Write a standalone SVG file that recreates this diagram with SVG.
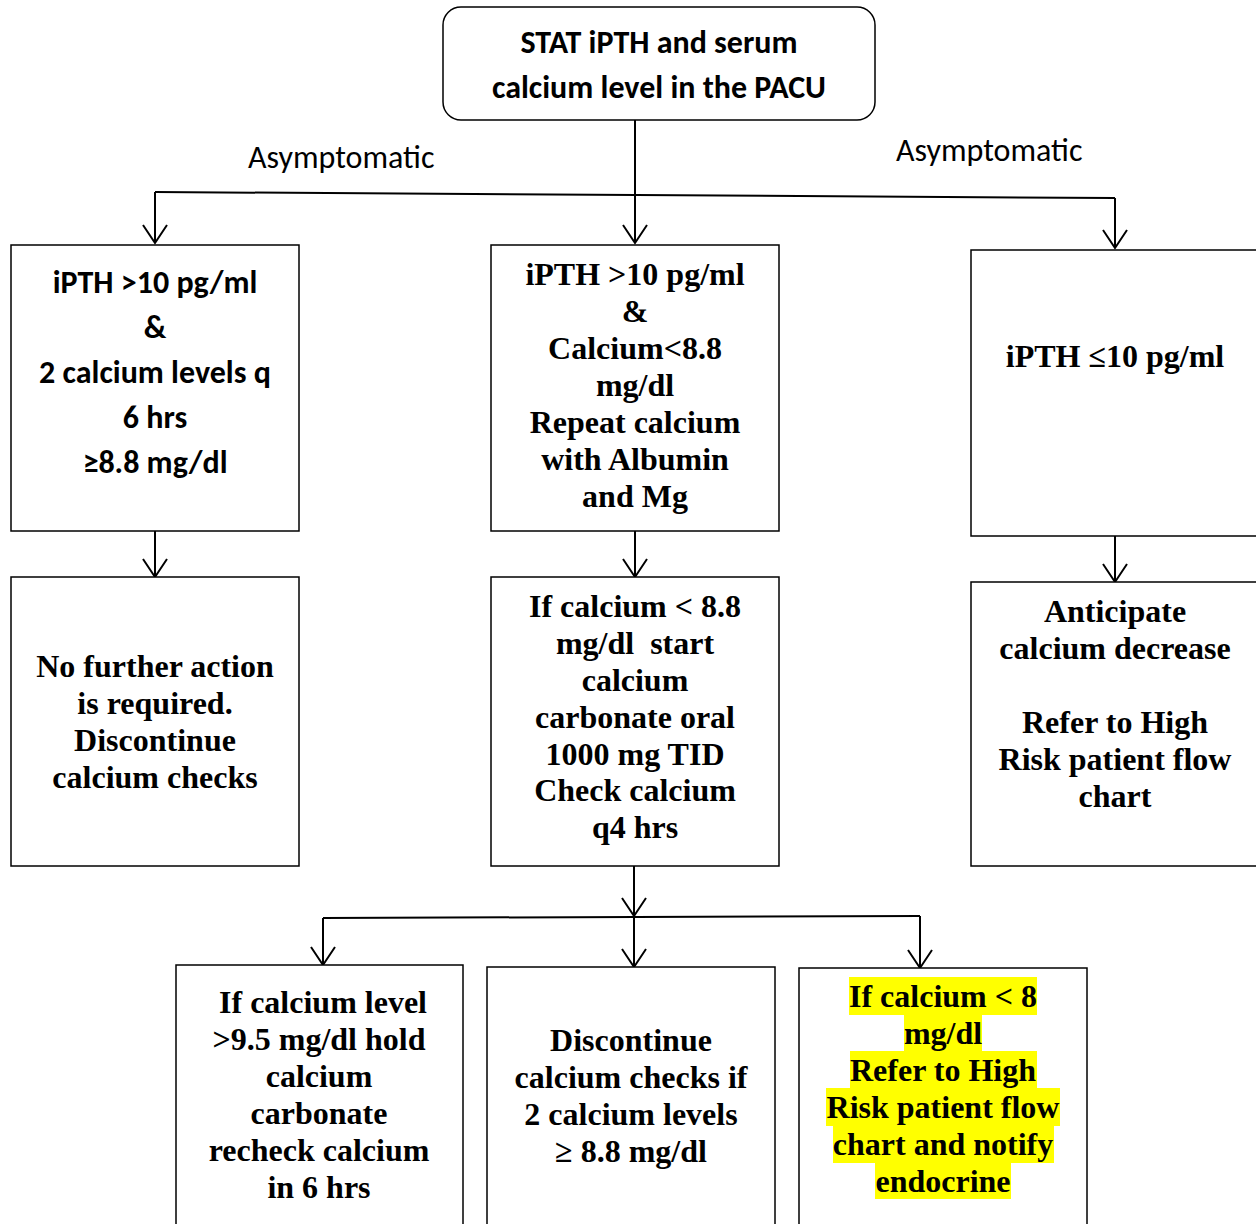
<svg xmlns="http://www.w3.org/2000/svg" width="1256" height="1224" viewBox="0 0 1256 1224">
<style>
.box{fill:#fff;stroke:#000;stroke-width:1.5}
.cal{font-family:Carlito,Lato,"Liberation Sans",sans-serif;font-weight:bold;font-size:32px;text-anchor:middle;fill:#000}
.lab{font-family:Carlito,Lato,"Liberation Sans",sans-serif;font-size:32px;fill:#000}
.tnr{font-family:"Liberation Serif","Times New Roman",serif;font-weight:bold;font-size:32px;text-anchor:middle;fill:#000}
.ln{fill:none;stroke:#000;stroke-width:2}
.hl{fill:#ffff00}
</style>
<rect width="1256" height="1224" fill="#fff"/>
<g id="connectors">
<line class="ln" x1="635" y1="120" x2="635" y2="243"/>
<line class="ln" x1="155" y1="192" x2="1115" y2="198"/>
<line class="ln" x1="155" y1="192" x2="155" y2="243"/>
<line class="ln" x1="1115" y1="198" x2="1115" y2="248"/>
<polyline class="ln" points="623,225 635,243 647,225"/>
<polyline class="ln" points="143,225 155,243 167,225"/>
<polyline class="ln" points="1103,230 1115,248 1127,230"/>
<line class="ln" x1="155" y1="531" x2="155" y2="577"/>
<polyline class="ln" points="143,559 155,577 167,559"/>
<line class="ln" x1="635" y1="531" x2="635" y2="577"/>
<polyline class="ln" points="623,559 635,577 647,559"/>
<line class="ln" x1="1115" y1="536" x2="1115" y2="582"/>
<polyline class="ln" points="1103,564 1115,582 1127,564"/>
<line class="ln" x1="634" y1="866" x2="634" y2="916"/>
<polyline class="ln" points="622,898 634,916 646,898"/>
<line class="ln" x1="323" y1="918" x2="920" y2="916"/>
<line class="ln" x1="323" y1="918" x2="323" y2="965"/>
<polyline class="ln" points="311,947 323,965 335,947"/>
<line class="ln" x1="634" y1="916" x2="634" y2="967"/>
<polyline class="ln" points="622,949 634,967 646,949"/>
<line class="ln" x1="920" y1="916" x2="920" y2="968"/>
<polyline class="ln" points="908,950 920,968 932,950"/>
</g>
<g id="labels">
<text class="lab" x="248" y="168">Asymptomatic</text>
<text class="lab" x="896" y="161">Asymptomatic</text>
</g>
<g id="start">
<rect class="box" x="443" y="7" width="432" height="113" rx="18"/>
<text class="cal" x="659" y="53">STAT iPTH and serum</text>
<text class="cal" x="659" y="98">calcium level in the PACU</text>
</g>
<g id="left1">
<rect class="box" x="11" y="245" width="288" height="286"/>
<text class="cal" x="155" y="293">iPTH &gt;10 pg/ml</text>
<text class="cal" x="155" y="338">&amp;</text>
<text class="cal" x="155" y="383">2 calcium levels q</text>
<text class="cal" x="155" y="428">6 hrs</text>
<text class="cal" x="155" y="473">≥8.8 mg/dl</text>
</g>
<g id="mid1">
<rect class="box" x="491" y="245" width="288" height="286"/>
<text class="tnr" x="635" y="285">iPTH &gt;10 pg/ml</text>
<text class="tnr" x="635" y="322">&amp;</text>
<text class="tnr" x="635" y="359">Calcium&lt;8.8</text>
<text class="tnr" x="635" y="396">mg/dl</text>
<text class="tnr" x="635" y="433">Repeat calcium</text>
<text class="tnr" x="635" y="470">with Albumin</text>
<text class="tnr" x="635" y="507">and Mg</text>
</g>
<g id="right1">
<rect class="box" x="971" y="250" width="300" height="286"/>
<text class="tnr" x="1115" y="367">iPTH ≤10 pg/ml</text>
</g>
<g id="left2">
<rect class="box" x="11" y="577" width="288" height="289"/>
<text class="tnr" x="155" y="677">No further action</text>
<text class="tnr" x="155" y="714">is required.</text>
<text class="tnr" x="155" y="751">Discontinue</text>
<text class="tnr" x="155" y="788">calcium checks</text>
</g>
<g id="mid2">
<rect class="box" x="491" y="577" width="288" height="289"/>
<text class="tnr" x="635" y="617">If calcium &lt; 8.8</text>
<text class="tnr" x="635" y="654" xml:space="preserve">mg/dl  start</text>
<text class="tnr" x="635" y="691">calcium</text>
<text class="tnr" x="635" y="728">carbonate oral</text>
<text class="tnr" x="635" y="765">1000 mg TID</text>
<text class="tnr" x="635" y="801">Check calcium</text>
<text class="tnr" x="635" y="838">q4 hrs</text>
</g>
<g id="right2">
<rect class="box" x="971" y="582" width="300" height="284"/>
<text class="tnr" x="1115" y="622">Anticipate</text>
<text class="tnr" x="1115" y="659">calcium decrease</text>
<text class="tnr" x="1115" y="733">Refer to High</text>
<text class="tnr" x="1115" y="770">Risk patient flow</text>
<text class="tnr" x="1115" y="807">chart</text>
</g>
<g id="bottom1">
<rect class="box" x="176" y="965" width="287" height="280"/>
<text class="tnr" x="323" y="1013">If calcium level</text>
<text class="tnr" x="319" y="1050">&gt;9.5 mg/dl hold</text>
<text class="tnr" x="319" y="1087">calcium</text>
<text class="tnr" x="319" y="1124">carbonate</text>
<text class="tnr" x="319" y="1161">recheck calcium</text>
<text class="tnr" x="319" y="1198">in 6 hrs</text>
</g>
<g id="bottom2">
<rect class="box" x="487" y="967" width="288" height="280"/>
<text class="tnr" x="631" y="1051">Discontinue</text>
<text class="tnr" x="631" y="1088">calcium checks if</text>
<text class="tnr" x="631" y="1125">2 calcium levels</text>
<text class="tnr" x="631" y="1162">≥ 8.8 mg/dl</text>
</g>
<g id="bottom3">
<rect class="box" x="799" y="968" width="288" height="280"/>
<rect class="hl" x="849" y="977" width="188" height="38"/>
<rect class="hl" x="904" y="1014" width="78" height="38"/>
<rect class="hl" x="850" y="1051" width="187" height="38"/>
<rect class="hl" x="826" y="1088" width="234" height="38"/>
<rect class="hl" x="833" y="1125" width="221" height="38"/>
<rect class="hl" x="875" y="1162" width="136" height="37"/>
<text class="tnr" x="943" y="1007">If calcium &lt; 8</text>
<text class="tnr" x="943" y="1044">mg/dl</text>
<text class="tnr" x="943" y="1081">Refer to High</text>
<text class="tnr" x="943" y="1118">Risk patient flow</text>
<text class="tnr" x="943" y="1155">chart and notify</text>
<text class="tnr" x="943" y="1192">endocrine</text>
</g>
</svg>
